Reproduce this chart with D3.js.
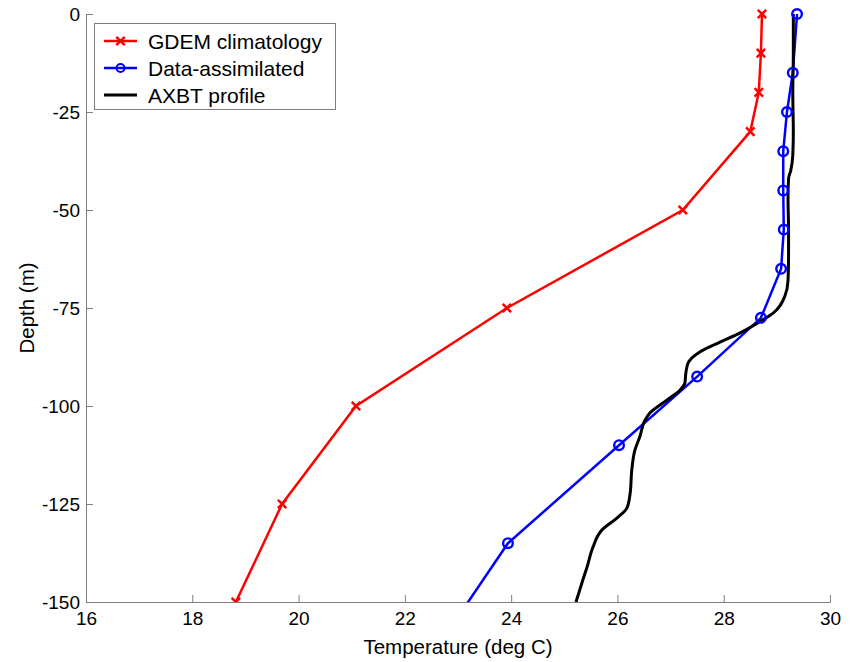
<!DOCTYPE html>
<html lang="en">
<head>
<meta charset="UTF-8">
<script src="https://d3js.org/d3.v7.min.js"></script>
<style>
  body { margin: 0; background: #fff; }
  text { font-family: "Liberation Sans", Arial, Helvetica, sans-serif; }
</style>
</head>
<body>
<script>
// chart data (depth in m, temperature in deg C)
const gdemDepth = [0, -10, -20, -30, -50, -75, -100, -125, -150];
const gdemTemp = [28.72, 28.70, 28.66, 28.50, 27.23, 23.92, 21.08, 19.69, 18.82];

const assimDepth = [0, -15, -25, -35, -45, -55, -65, -77.5, -92.5, -110, -135, -165];
const assimTemp = [29.38, 29.30, 29.19, 29.12, 29.12, 29.13, 29.08, 28.70, 27.50, 26.03, 23.94, 22.44];

const axbtDepth = [0, -10, -20, -30, -36, -40, -42, -47, -55, -62, -68, -72, -76.3, -78, -81.4, -83.7, -86.2, -89, -91.3, -94.1, -95.9, -98.5, -101.8, -103.6, -107.9, -111.2, -116.3, -122.2, -126, -128.6, -131.6, -136, -141, -145.2, -150];
const axbtTemp = [29.31, 29.31, 29.30, 29.31, 29.30, 29.26, 29.22, 29.21, 29.22, 29.22, 29.21, 29.15, 28.93, 28.74, 28.30, 27.93, 27.55, 27.33, 27.29, 27.27, 27.18, 26.93, 26.61, 26.52, 26.42, 26.33, 26.27, 26.24, 26.18, 25.99, 25.71, 25.54, 25.43, 25.33, 25.22];

const xTicks = [16, 18, 20, 22, 24, 26, 28, 30];
const yTicks = [0, -25, -50, -75, -100, -125, -150];
const legendLabels = ["GDEM climatology", "Data-assimilated", "AXBT profile"];

const w = 858, h = 662;
const padL = 86, padR = 830, padT = 14, padB = 602;
const axisColor = "#7f7f7f";

const svg = d3.select("body").append("svg")
  .attr("width", w).attr("height", h);

const x = d3.scaleLinear().domain([16, 30]).range([padL, padR]);
const y = d3.scaleLinear().domain([0, -150]).range([padT, padB]);

svg.append("defs").append("clipPath").attr("id", "plotclip")
  .append("rect").attr("x", padL).attr("y", padT - 10)
  .attr("width", padR - padL + 10).attr("height", padB - padT + 10);

// axes (ticks point inward), plain hyphen for negatives
const fmt = d => String(d);
const xAxis = svg.append("g").attr("transform", `translate(0,${padB})`)
  .call(d3.axisBottom(x).tickValues(xTicks).tickFormat(fmt).tickSizeInner(-7).tickSizeOuter(-7).tickPadding(13));
const yAxis = svg.append("g").attr("transform", `translate(${padL},0)`)
  .call(d3.axisLeft(y).tickValues(yTicks).tickFormat(fmt).tickSizeInner(-7).tickSizeOuter(-7).tickPadding(6));

[xAxis, yAxis].forEach(g => {
  g.selectAll("path, line").attr("stroke", axisColor).attr("stroke-width", 1);
  g.selectAll("text").attr("fill", "#000").style("font-size", "19px");
});
xAxis.selectAll("text").attr("dy", "0.55em");

svg.append("text")
  .attr("x", 458).attr("y", 654)
  .attr("text-anchor", "middle").style("font-size", "20.5px")
  .text("Temperature (deg C)");

svg.append("text")
  .attr("transform", `translate(34,${(padT + padB) / 2}) rotate(-90)`)
  .attr("text-anchor", "middle").style("font-size", "20.5px")
  .text("Depth (m)");

const line = d3.line().x(d => x(d[0])).y(d => y(d[1]));
const plot = svg.append("g").attr("clip-path", "url(#plotclip)");

const gdem = gdemTemp.map((t, i) => [t, gdemDepth[i]]);
const assim = assimTemp.map((t, i) => [t, assimDepth[i]]);
const axbt = axbtTemp.map((t, i) => [t, axbtDepth[i]]);

plot.append("path").datum(gdem).attr("d", line)
  .attr("fill", "none").attr("stroke", "#ff0000").attr("stroke-width", 2.5);

plot.append("path").datum(assim).attr("d", line)
  .attr("fill", "none").attr("stroke", "#0000ff").attr("stroke-width", 2.5);

plot.append("path").datum(axbt).attr("d", d3.line().curve(d3.curveMonotoneY).x(d => x(d[0])).y(d => y(d[1])))
  .attr("fill", "none").attr("stroke", "#000").attr("stroke-width", 3);

// markers
const cross = d3.symbol().type(d3.symbolX).size(48);
plot.selectAll(".gx").data(gdem).join("path")
  .attr("transform", d => `translate(${x(d[0])},${y(d[1])})`)
  .attr("d", cross).attr("fill", "none").attr("stroke", "#ff0000").attr("stroke-width", 2.5);

plot.selectAll(".ac").data(assim).join("circle")
  .attr("cx", d => x(d[0])).attr("cy", d => y(d[1])).attr("r", 4.8)
  .attr("fill", "none").attr("stroke", "#0000ff").attr("stroke-width", 2.4);

// legend
const legend = svg.append("g");
legend.append("rect").attr("x", 94.5).attr("y", 23.5).attr("width", 241).attr("height", 86)
  .attr("fill", "#fff").attr("stroke", axisColor).attr("stroke-width", 1);

const legColors = ["#ff0000", "#0000ff", "#000"];
legendLabels.forEach((lab, i) => {
  const ly = 41 + i * 27;
  legend.append("line").attr("x1", 104).attr("x2", 137).attr("y1", ly).attr("y2", ly)
    .attr("stroke", legColors[i]).attr("stroke-width", i === 2 ? 3 : 2.5);
  if (i === 0) {
    legend.append("path").attr("transform", `translate(120.5,${ly})`).attr("d", cross)
      .attr("fill", "none").attr("stroke", legColors[i]).attr("stroke-width", 2.5);
  } else if (i === 1) {
    legend.append("circle").attr("cx", 120.5).attr("cy", ly).attr("r", 4)
      .attr("fill", "none").attr("stroke", legColors[i]).attr("stroke-width", 2);
  }
  legend.append("text").attr("x", 148).attr("y", ly).attr("dy", "0.36em")
    .style("font-size", "21px").text(lab);
});
</script>
</body>
</html>
